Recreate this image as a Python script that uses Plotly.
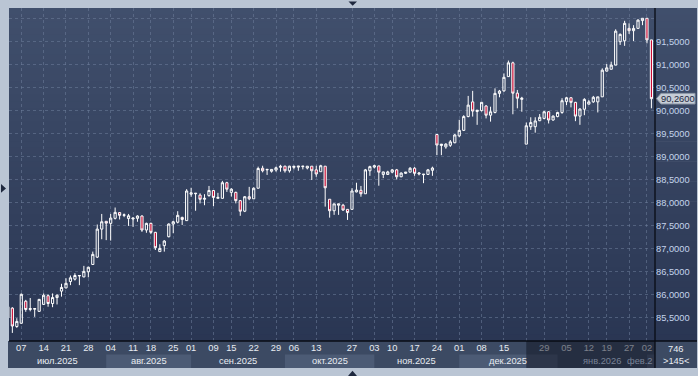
import plotly.graph_objects as go
import pandas as pd

# ---------------- data ----------------
open_prices = [
    85.49, 85.70, 85.30, 85.37, 85.85, 85.67, 85.675, 85.63, 85.78, 85.97,
    85.80, 85.93, 86.07, 86.14, 86.28, 86.33, 86.40, 86.38, 86.49, 86.65,
    86.81, 87.42, 87.59, 87.545, 87.655, 87.78, 87.72, 87.65, 87.64, 87.655,
    87.705, 87.40, 87.545, 87.35, 86.93, 87.06, 87.255, 87.53, 87.57, 87.675,
    87.605, 88.18, 88.19, 88.16, 88.07, 88.15, 88.26, 88.09, 88.09, 88.43,
    88.22, 88.22, 88.04, 87.81, 88.125, 88.08, 88.31, 88.745, 88.71, 88.68,
    88.706, 88.765, 88.79, 88.69, 88.765, 88.77, 88.78, 88.75, 88.79, 88.71,
    88.67, 88.79, 88.07, 87.82, 87.94, 87.94, 87.85, 87.85, 88.23, 88.265,
    88.19, 88.69, 88.77, 88.795, 88.61, 88.61, 88.66, 88.71, 88.56, 88.635,
    88.66, 88.745, 88.62, 88.605, 88.61, 88.70, 89.48, 89.24, 89.21, 89.245,
    89.30, 89.45, 89.57, 89.87, 90.19, 89.98, 90.00, 90.10, 89.90, 89.96,
    90.375, 90.43, 90.74, 91.04, 90.38, 90.245, 89.27, 89.65, 89.65, 89.78,
    89.83, 89.975, 89.795, 89.87, 89.96, 90.195, 90.28, 90.18, 89.88, 90.03,
    90.14, 90.19, 90.19, 90.30, 90.86, 90.90, 90.99, 91.50, 91.52, 91.79,
    91.74, 91.79, 91.96, 92.01, 91.54]
high_prices = [
    85.76, 85.72, 85.48, 86.02, 85.88, 85.92, 85.69, 85.90, 86.02, 86.00,
    86.02, 86.00, 86.23, 86.35, 86.41, 86.46, 86.42, 86.62, 86.60, 86.93,
    87.52, 87.75, 87.59, 87.75, 87.89, 87.78, 87.76, 87.75, 87.67, 87.72,
    87.72, 87.56, 87.56, 87.36, 87.09, 87.18, 87.545, 87.60, 87.81, 87.69,
    88.29, 88.32, 88.20, 88.20, 88.18, 88.36, 88.27, 88.21, 88.47, 88.45,
    88.31, 88.235, 88.055, 88.14, 88.34, 88.33, 88.78, 88.80, 88.72, 88.72,
    88.78, 88.82, 88.80, 88.80, 88.79, 88.79, 88.79, 88.79, 88.79, 88.80,
    88.82, 88.79, 88.07, 87.97, 87.97, 87.97, 87.85, 88.31, 88.43, 88.36,
    88.73, 88.80, 88.82, 88.80, 88.67, 88.69, 88.73, 88.73, 88.655, 88.66,
    88.77, 88.77, 88.66, 88.62, 88.73, 88.78, 89.48, 89.27, 89.29, 89.36,
    89.49, 89.80, 89.90, 90.32, 90.43, 90.01, 90.19, 90.12, 90.085, 90.485,
    90.45, 90.81, 91.09, 91.065, 90.45, 90.30, 89.74, 89.855, 89.855, 89.925,
    89.99, 89.99, 89.895, 89.975, 90.27, 90.30, 90.29, 90.19, 90.05, 90.27,
    90.23, 90.32, 90.30, 90.92, 91.015, 91.065, 91.77, 91.68, 91.955, 91.90,
    91.86, 91.99, 92.01, 92.01, 91.54]
low_prices = [
    85.45, 85.16, 85.27, 85.36, 85.62, 85.63, 85.51, 85.62, 85.77, 85.73,
    85.72, 85.78, 85.95, 86.13, 86.20, 86.30, 86.20, 86.37, 86.37, 86.64,
    86.79, 87.20, 87.18, 87.17, 87.63, 87.63, 87.68, 87.49, 87.47, 87.58,
    87.36, 87.34, 87.31, 86.965, 86.93, 86.93, 87.24, 87.33, 87.545, 87.51,
    87.605, 88.125, 87.82, 87.98, 87.94, 88.125, 87.92, 88.09, 88.09, 88.23,
    88.13, 87.98, 87.71, 87.79, 88.05, 88.08, 88.31, 88.655, 88.60, 88.65,
    88.67, 88.67, 88.65, 88.65, 88.72, 88.69, 88.72, 88.72, 88.49, 88.56,
    88.67, 87.91, 87.67, 87.73, 87.73, 87.82, 87.62, 87.85, 88.22, 88.125,
    88.19, 88.58, 88.74, 88.365, 88.53, 88.60, 88.635, 88.50, 88.55, 88.62,
    88.66, 88.58, 88.59, 88.42, 88.61, 88.58, 89.03, 89.03, 89.17, 89.21,
    89.29, 89.42, 89.555, 89.855, 89.87, 89.69, 89.98, 89.83, 89.76, 89.94,
    90.29, 90.41, 90.74, 89.92, 90.05, 89.975, 89.27, 89.58, 89.52, 89.77,
    89.81, 89.72, 89.78, 89.855, 89.93, 90.12, 90.07, 89.77, 89.69, 89.90,
    90.14, 90.17, 89.96, 90.30, 90.85, 90.90, 90.99, 91.43, 91.41, 91.67,
    91.515, 91.79, 91.86, 91.465, 90.05]
close_prices = [
    85.73, 85.31, 85.41, 86.00, 85.67, 85.69, 85.69, 85.89, 85.98, 85.80,
    85.93, 85.98, 86.15, 86.24, 86.36, 86.41, 86.41, 86.50, 86.59, 86.87,
    87.42, 87.58, 87.55, 87.66, 87.785, 87.72, 87.73, 87.71, 87.66, 87.705,
    87.40, 87.545, 87.35, 87.015, 87.00, 87.16, 87.53, 87.58, 87.72, 87.63,
    88.25, 88.21, 88.20, 88.07, 88.09, 88.26, 88.11, 88.11, 88.43, 88.29,
    88.29, 88.04, 87.81, 88.125, 88.08, 88.31, 88.74, 88.69, 88.72, 88.72,
    88.756, 88.787, 88.69, 88.79, 88.787, 88.79, 88.79, 88.79, 88.69, 88.62,
    88.80, 88.32, 87.82, 87.97, 87.97, 87.835, 87.78, 88.25, 88.27, 88.19,
    88.71, 88.78, 88.80, 88.66, 88.665, 88.665, 88.71, 88.56, 88.64, 88.66,
    88.745, 88.635, 88.64, 88.615, 88.71, 88.75, 89.25, 89.27, 89.27, 89.32,
    89.47, 89.57, 89.87, 90.12, 89.99, 90.01, 90.18, 89.90, 89.975, 90.375,
    90.425, 90.725, 91.04, 90.38, 90.27, 90.27, 89.67, 89.74, 89.775, 89.855,
    89.975, 89.795, 89.88, 89.96, 90.215, 90.28, 90.18, 89.88, 90.035, 90.245,
    90.19, 90.29, 90.30, 90.88, 90.93, 90.99, 91.73, 91.66, 91.90, 91.74,
    91.79, 91.97, 92.01, 91.54, 90.26]

first_day, last_day = "2025-07-02", "2026-02-03"
missing_days = ["2025-08-15", "2025-08-29", "2025-09-08", "2025-10-03",
                "2025-10-20", "2025-10-21", "2025-11-04", "2025-12-26",
                "2026-01-16", "2026-01-26"]
week_ticks = ["2025-07-07", "2025-07-14", "2025-07-21", "2025-07-28",
              "2025-08-04", "2025-08-11", "2025-08-18", "2025-08-25",
              "2025-09-01", "2025-09-09", "2025-09-15", "2025-09-22",
              "2025-09-29", "2025-10-06", "2025-10-13", "2025-10-27",
              "2025-11-03", "2025-11-10", "2025-11-17", "2025-11-24",
              "2025-12-01", "2025-12-08", "2025-12-15", "2025-12-22",
              "2025-12-29", "2026-01-05", "2026-01-12", "2026-01-19",
              "2026-01-27", "2026-02-02"]
unlabeled_week_ticks = ["2025-12-22"]
shaded_from = "2025-12-22"
month_keys = ["2025-07", "2025-08", "2025-09", "2025-10", "2025-11",
              "2025-12", "2026-01", "2026-02"]
month_labels = ["июл.2025", "авг.2025", "сен.2025", "окт.2025", "ноя.2025",
                "дек.2025", "янв.2026", "фев.2"]
price_ticks = [85.5, 86.0, 86.5, 87.0, 87.5, 88.0, 88.5, 89.0, 89.5, 90.0,
               90.5, 91.0, 91.5, 92.0]
unlabeled_price_ticks = [92.0]
bar_total_label = "746"
visible_bars_label = ">145<"

days = [d.strftime("%Y-%m-%d") for d in pd.bdate_range(first_day, last_day)]
dates = [d for d in days if d not in missing_days]
assert len(dates) == len(close_prices) == 145

def price_text(v):
    return f"{v:.4f}".replace(".", ",")

# ---------------- geometry / style ----------------
W, H = 698, 376
ML, MT, MR, MB = 9, 8, 43, 35
PW, PH = W - ML - MR, H - MT - MB
XMIN, XMAX = 0.25, 144.8
YMIN, YMAX = 84.984, 92.234
FONT = "Liberation Sans"
FS = 9.3
LIGHT = "rgb(232,236,242)"

def px(x):
    return (x - ML) / PW

def py(y):
    return (MT + PH - y) / PH

def idx_px(i):
    return ML + (i - XMIN) / (XMAX - XMIN) * PW

def label(x, y, text, color=LIGHT, xanchor="center", yref="paper"):
    return dict(x=x, y=y, xref="paper", yref=yref, text=text, showarrow=False,
                xanchor=xanchor, yanchor="middle",
                font=dict(family=FONT, size=FS, color=color))

shapes = []
# gradient background of chart + right panel
N = 50
top_c, bot_c = (64, 79, 108), (42, 54, 83)
for k in range(N):
    t = k / (N - 1)
    c = tuple(round(top_c[j] + (bot_c[j] - top_c[j]) * t) for j in range(3))
    shapes.append(dict(type="rect", xref="paper", yref="paper", layer="below",
                       x0=0, x1=px(W - 1), y0=1 - (k + 1) / N - 0.002, y1=1 - k / N,
                       fillcolor=f"rgb{c}", line_width=0))
# time-axis strip
shapes.append(dict(type="rect", xref="paper", yref="paper", layer="below",
                   x0=px(ML - 1), x1=px(W - 1), y0=py(368), y1=0,
                   fillcolor="rgb(60,74,99)", line_width=0))

# month bands
pos = {d: i for i, d in enumerate(dates)}
annotations = []
firsts = [next(i for i, d in enumerate(dates) if d.startswith(key)) for key in month_keys]
shade_x = idx_px(pos[shaded_from])
for m, key in enumerate(month_keys):
    a = max(idx_px(firsts[m]), ML)
    b = min(idx_px(firsts[m + 1]) if m + 1 < len(firsts) else ML + PW, ML + PW)
    if m % 2 == 1:
        shapes.append(dict(type="rect", xref="paper", yref="paper", layer="below",
                           x0=px(a), x1=px(b), y0=py(368), y1=py(354.5),
                           fillcolor="rgb(76,91,117)", line_width=0))
    center = (a + b) / 2
    col = "rgb(120,130,150)" if center > shade_x else LIGHT
    if m == len(month_keys) - 1:
        annotations.append(label(1, py(361), month_labels[m], col, xanchor="right"))
    else:
        annotations.append(label(px(center), py(361), month_labels[m], col))

# shaded (dimmed) part of the time axis
shapes.append(dict(type="rect", xref="paper", yref="paper", layer="above",
                   x0=px(shade_x), x1=1, y0=py(368), y1=0,
                   fillcolor="rgba(14,18,32,0.5)", line_width=0))
# frame lines
shapes.append(dict(type="line", xref="paper", yref="paper", layer="above",
                   x0=0, x1=px(W - 1), y0=0, y1=0, line=dict(color="rgb(8,12,20)", width=1.3)))
shapes.append(dict(type="line", xref="paper", yref="paper", layer="above",
                   x0=1, x1=1, y0=py(368), y1=1, line=dict(color="rgb(8,12,20)", width=1.3)))

# last price marker
last = close_prices[-1]
hh = 5.3 / (PH / (YMAX - YMIN))
shapes.append(dict(type="path", xref="paper", yref="y", layer="above",
                   path=(f"M {px(656.5)},{last} L {px(661)},{last + hh} L {px(695)},{last + hh} "
                         f"L {px(695)},{last - hh} L {px(661)},{last - hh} Z"),
                   fillcolor="rgb(198,205,214)", line=dict(color="rgb(140,150,166)", width=1)))
annotations.append(label(px(678), last, price_text(last), "rgb(28,38,60)", yref="y"))

# corner labels
annotations.append(label(px(676), py(349), bar_total_label))
annotations.append(label(px(676), py(361), visible_bars_label))

# small navigation triangles
tri = "rgb(30,40,62)"
for path in (
    f"M {px(348.5)},{py(1.5)} L {px(357)},{py(1.5)} L {px(352.7)},{py(5.8)} Z",
    f"M {px(348)},{py(376)} L {px(357)},{py(376)} L {px(352.5)},{py(370.8)} Z",
    f"M {px(1)},{py(184)} L {px(1)},{py(192.8)} L {px(6)},{py(188.4)} Z",
):
    shapes.append(dict(type="path", xref="paper", yref="paper", layer="above",
                       line_width=0, fillcolor=tri, path=path))

fig = go.Figure(go.Candlestick(
    x=dates, open=open_prices, high=high_prices, low=low_prices, close=close_prices,
    increasing=dict(line=dict(color="white", width=1), fillcolor="rgba(0,0,0,0)"),
    decreasing=dict(line=dict(color="white", width=1), fillcolor="rgb(200,10,50)"),
    whiskerwidth=0, hoverinfo="skip", showlegend=False))

grid = "rgba(110,126,155,0.55)"
fig.update_layout(
    width=W, height=H, margin=dict(l=ML, r=MR, t=MT, b=MB, pad=0),
    paper_bgcolor="rgb(186,197,212)", plot_bgcolor="rgb(52,65,93)",
    font=dict(family=FONT, size=FS, color=LIGHT),
    showlegend=False, shapes=shapes, annotations=annotations,
    xaxis=dict(type="category", range=[XMIN, XMAX], rangeslider=dict(visible=False),
               tickvals=week_ticks,
               ticktext=["" if d in unlabeled_week_ticks else d[-2:] for d in week_ticks],
               showgrid=True, gridcolor=grid, griddash="3px,3px", gridwidth=1,
               ticks="", showline=False, zeroline=False, fixedrange=True,
               tickfont=dict(family=FONT, size=FS, color=LIGHT)),
    yaxis=dict(side="right", range=[YMIN, YMAX], tickvals=price_ticks,
               ticktext=["" if v in unlabeled_price_ticks else price_text(v) for v in price_ticks],
               showgrid=True, gridcolor=grid, griddash="3px,3px", gridwidth=1,
               ticks="", showline=False, zeroline=False, fixedrange=True,
               tickfont=dict(family=FONT, size=FS, color="rgb(196,212,236)")),
)

fig.write_html("out.html", config={"displayModeBar": False},
               post_script="document.body.style.margin='0';document.body.style.overflow='hidden';")
